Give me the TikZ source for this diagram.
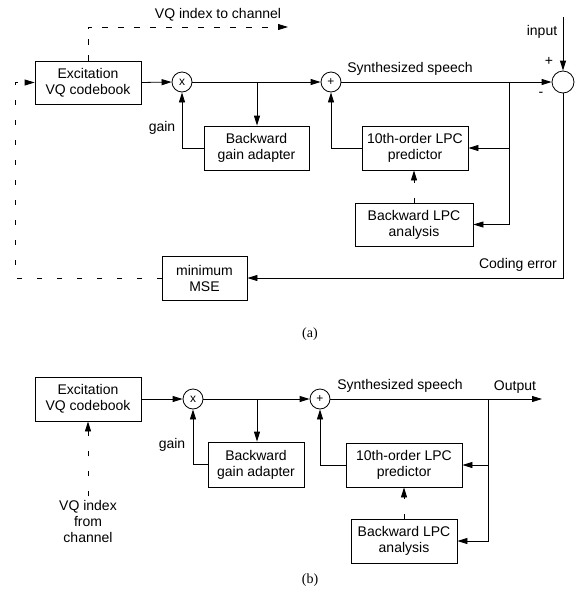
\documentclass[tikz,border=0pt]{standalone}
\usepackage{fontspec}
\setmainfont{Liberation Sans}
\newfontfamily\capfont{Liberation Serif}
\usetikzlibrary{arrows.meta}
\begin{document}
\begin{tikzpicture}[x=1pt,y=-1pt, line width=0.8pt,
  txt/.style={font=\fontsize{14}{16}\selectfont, inner sep=0pt, align=center},
  blk/.style={draw, rectangle, inner sep=0pt, align=center, font=\fontsize{14}{16}\selectfont},
  opc/.style={draw, circle, inner sep=0pt, minimum size=20pt, font=\fontsize{12}{12}\selectfont},
  arr/.style={-{Triangle[length=10pt,width=6pt]}},
  dsh/.style={dash pattern=on 5pt off 15pt},
  dshtop/.style={dash pattern=on 6pt off 10pt},
  figcap/.style={font=\capfont\fontsize{14}{16}\selectfont, inner sep=0pt}
]
\useasboundingbox (0,0) rectangle (575,595);

% ---------------- (a) ----------------
\node[blk, minimum width=106pt, minimum height=43pt] (exa) at (88,82.5) {Excitation\\VQ codebook};
\node[opc] (mula) at (182,82) {x};
\node[opc] (suma) at (331,82) {+};
\node[opc, minimum size=22pt] (diffa) at (563,82) {};
\node[blk, minimum width=105pt, minimum height=44pt] (gaina) at (256.5,148) {Backward\\gain adapter};
\node[blk, minimum width=106pt, minimum height=44pt] (preda) at (415,148) {10th-order LPC\\predictor};
\node[blk, minimum width=118pt, minimum height=43pt] (anaa) at (414,224.5) {Backward LPC\\analysis};
\node[blk, minimum width=85pt, minimum height=44pt] (msea) at (204.5,278) {minimum\\MSE};

\coordinate (ja1) at (257,82);
\coordinate (ja2) at (509,82);
\coordinate (inpa) at (563,17);
\coordinate (cl1) at (15,278);
\coordinate (cl2) at (15,82.5);
\coordinate (ct1) at (88,27);
\coordinate (ct2) at (288,27);

\draw[arr] (exa.east) -- (mula.west);
\draw[arr] (mula.east) -- (suma.west);
\draw[arr] (ja1) -- (ja1 |- gaina.north);
\draw[arr] (gaina.west) -| (mula.south);
\draw[arr] (preda.west) -| (suma.south);
\draw[arr] (suma.east) -- (diffa.west);
\draw[arr] (ja2) |- (preda.east);
\draw[arr] (ja2) |- (anaa.east);
\draw[arr, dsh] (anaa.north) -- (anaa.north |- preda.south);
\draw[arr] (inpa) -- (diffa.north);
\draw[arr] (diffa.south) |- (msea.east);
\draw[arr, dsh] (msea.west) -- (cl1) -- (cl2) -- (exa.west);
\draw[arr, dshtop] (exa.north) -- (ct1) -- (ct2);

\node[txt] (lvq) at (218,15) {VQ index to channel};
\node[txt] (lgaina) at (162,128) {gain};
\node[txt] (lsyna) at (410,69) {Synthesized speech};
\node[txt] (linp) at (542,32) {input};
\node[txt] (lplus) at (549,61) {+};
\node[txt] (lminus) at (541,94) {-};
\node[txt] (lerr) at (518,265) {Coding error};
\node[figcap] (capa) at (310,334) {(a)};

% ---------------- (b) ----------------
\node[blk, minimum width=106pt, minimum height=44pt] (exb) at (88,399) {Excitation\\VQ codebook};
\node[opc] (mulb) at (193,399) {x};
\node[opc] (sumb) at (320,399) {+};
\node[blk, minimum width=96pt, minimum height=45pt] (gainb) at (256,464.5) {Backward\\gain adapter};
\node[blk, minimum width=116pt, minimum height=44pt] (predb) at (404,465) {10th-order LPC\\predictor};
\node[blk, minimum width=106pt, minimum height=44pt] (anab) at (404,541) {Backward LPC\\analysis};
\node[txt, inner sep=3pt] (vqb) at (88,521) {VQ index\\from\\channel};

\coordinate (jb1) at (257,399);
\coordinate (jb2) at (488,399);
\coordinate (outb) at (542,399);

\draw[arr] (exb.east) -- (mulb.west);
\draw[arr] (mulb.east) -- (sumb.west);
\draw[arr] (jb1) -- (jb1 |- gainb.north);
\draw[arr] (gainb.west) -| (mulb.south);
\draw[arr] (predb.west) -| (sumb.south);
\draw[arr] (sumb.east) -- (outb);
\draw[arr] (jb2) |- (predb.east);
\draw[arr] (jb2) |- (anab.east);
\draw[arr, dsh] (anab.north) -- (anab.north |- predb.south);
\draw[arr, dsh] (vqb.north) -- (exb.south);

\node[txt] (lgainb) at (172,445) {gain};
\node[txt] (lsynb) at (400,386) {Synthesized speech};
\node[txt] (lout) at (515,387) {Output};
\node[figcap] (capb) at (310,580) {(b)};
\end{tikzpicture}
\end{document}
